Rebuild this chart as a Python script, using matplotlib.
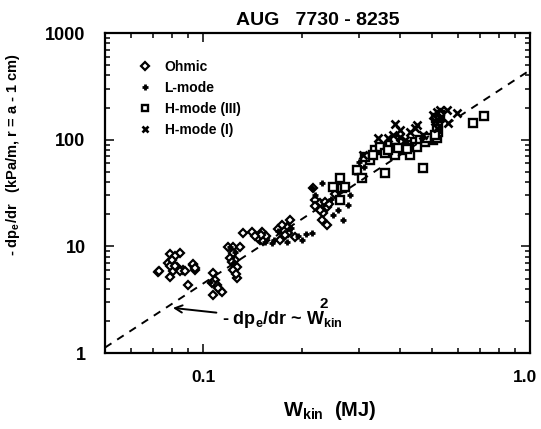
import numpy as np
import matplotlib
matplotlib.use("Agg")
import matplotlib.pyplot as plt
import matplotlib.transforms as mtransforms
from matplotlib.ticker import FixedLocator, FixedFormatter, LogLocator, NullFormatter

plt.rcParams['font.family'] = ['Liberation Sans', 'DejaVu Sans']
plt.rcParams['font.weight'] = 'bold'
plt.rcParams['mathtext.default'] = 'regular'

# W_kin (MJ) and -dpe/dr (kPa/m)
ohmic_w = [0.0726, 0.0730, 0.0790, 0.0848, 0.0779, 0.0830, 0.0866, 0.0929, 0.0942, 0.0790,
           0.0897, 0.0818, 0.0807, 0.0848, 0.0878, 0.0790, 0.0818, 0.0929, 0.0942, 0.0800,
           0.1070, 0.1085, 0.1100, 0.1124, 0.1070, 0.1140, 0.1060, 0.1110,
           0.1189, 0.1232, 0.1293, 0.1232, 0.1249, 0.1267, 0.1267, 0.1232, 0.1206, 0.1220, 0.1260,
           0.1321, 0.1408, 0.1511, 0.1489, 0.1542, 0.1469, 0.1520, 0.1560, 0.1500, 0.1440,
           0.1690, 0.1801, 0.1839, 0.1813, 0.1905, 0.1714, 0.1760, 0.1740, 0.1780,
           0.2163, 0.2194, 0.2273, 0.2387, 0.2321, 0.2305, 0.2387, 0.2250, 0.2350, 0.2420,
           0.2200, 0.2280, 0.2530, 0.2600]
ohmic_p = [5.76, 5.90, 8.5, 8.7, 7.0, 6.4, 6.0, 6.7, 6.0, 5.2,
           4.35, 8.13, 5.9, 5.9, 5.9, 6.6, 6.5, 6.9, 6.3, 7.5,
           5.63, 4.84, 4.35, 3.90, 3.50, 3.74, 4.5, 4.1,
           9.87, 9.87, 9.87, 8.67, 7.46, 6.41, 5.06, 6.0, 7.8, 7.1, 5.5,
           13.4, 13.6, 13.6, 11.5, 12.0, 11.9, 11.2, 12.4, 12.8, 12.5,
           14.6, 15.2, 17.7, 13.4, 12.2, 11.5, 14.0, 16.0, 12.8,
           35.5, 27.2, 25.5, 23.4, 20.6, 17.7, 15.9, 23.0, 26.0, 25.0,
           24.0, 22.0, 31.0, 33.5]

lmode_w = [0.1047, 0.1206, 0.1249, 0.1232, 0.1620, 0.1640, 0.2002, 0.2148, 0.1950, 0.2060,
           0.2148, 0.2305, 0.2672, 0.2768, 0.2807, 0.2200, 0.2450, 0.2500, 0.2580, 0.2907,
           0.1690, 0.1850, 0.1800, 0.1540, 0.3000, 0.3180, 0.3300, 0.3100]
lmode_p = [4.64, 9.87, 8.86, 6.99, 10.8, 11.5, 11.5, 13.4, 12.5, 13.0,
           35.3, 39.3, 17.7, 24.4, 30.3, 30.0, 28.0, 19.5, 22.0, 49.8,
           14.0, 15.0, 11.0, 11.0, 62.0, 66.0, 75.0, 56.0]

h3_w = [0.2616, 0.2491, 0.2653, 0.2616, 0.2949, 0.3054, 0.2710, 0.3591, 0.4693, 0.6676,
        0.7212, 0.3347, 0.3467, 0.3720, 0.3992, 0.4135, 0.4283, 0.4436, 0.4595, 0.4760,
        0.3854, 0.3591, 0.4283, 0.5036, 0.5178, 0.5214, 0.5214, 0.3232, 0.3120, 0.3854,
        0.4827, 0.3300, 0.3680, 0.4500, 0.4200, 0.3950, 0.5150, 0.5200, 0.5100, 0.5300]
h3_p = [43.8, 36.0, 35.3, 27.2, 52.0, 43.8, 36.0, 48.8, 54.3, 143.4,
        166.8, 80.1, 85.4, 89.2, 93.1, 80.1, 89.2, 95.1, 99.4, 95.1,
        71.9, 75.1, 71.9, 99.4, 103.7, 118.1, 143.4, 64.5, 68.8, 99.4,
        103.7, 72.0, 80.0, 85.0, 82.0, 84.0, 160.0, 125.0, 110.0, 170.0]

h1_w = [0.3854, 0.3419, 0.3668, 0.3799, 0.3076, 0.4283, 0.4436, 0.4500, 0.5178, 0.5553,
        0.5963, 0.5594, 0.5036, 0.3992, 0.4135, 0.5290, 0.5300, 0.5100, 0.4700, 0.4000, 0.5200]
h1_p = [140.4, 103.7, 103.7, 110.7, 71.9, 118.1, 128.8, 137.4, 181.8, 189.8,
        177.9, 143.4, 170.4, 123.3, 99.4, 189.8, 160.0, 150.0, 110.0, 105.0, 130.0]

fit_w = [0.05, 1.0]
fit_coef = 450.0

fig = plt.figure(figsize=(5.41, 4.29), dpi=100)
ax = fig.add_axes([0.194, 0.177, 0.786, 0.746])

ax.plot(ohmic_w, ohmic_p, 'D', ms=4.5, mfc='white', mec='black', mew=1.6, ls='none', label='Ohmic')
ax.plot(lmode_w, lmode_p, '+', ms=5, mec='black', mew=2.0, ls='none', label='L-mode')
ax.plot(h3_w, h3_p, 's', ms=5.5, mfc='white', mec='black', mew=1.7, ls='none', label='H-mode (III)')
ax.plot(h1_w, h1_p, 'x', ms=5.5, mec='black', mew=1.9, ls='none', label='H-mode (I)')

fw = np.array(fit_w)
ax.plot(fw, fit_coef * fw**2, ls=(0, (4, 3.5)), color='black', lw=1.4)

ax.set_xscale('log')
ax.set_yscale('log')
ax.set_xlim(0.05, 1.0)
ax.set_ylim(1, 1000)

ax.xaxis.set_major_locator(FixedLocator([0.1, 1.0]))
ax.xaxis.set_major_formatter(FixedFormatter(['0.1', '1.0']))
ax.xaxis.set_minor_locator(FixedLocator([0.05, 0.06, 0.07, 0.08, 0.09, 0.2, 0.3, 0.4, 0.5, 0.6, 0.7, 0.8, 0.9]))
ax.xaxis.set_minor_formatter(NullFormatter())
ax.yaxis.set_major_locator(FixedLocator([1, 10, 100, 1000]))
ax.yaxis.set_major_formatter(FixedFormatter(['1', '10', '100', '1000']))
ax.yaxis.set_minor_locator(LogLocator(base=10, subs=np.arange(2, 10), numticks=20))
ax.yaxis.set_minor_formatter(NullFormatter())

ax.tick_params(which='both', direction='in', top=True, right=True, width=1.1, labelsize=13)
ax.tick_params(axis='x', labelsize=12.5)
ax.tick_params(which='major', length=6.5)
ax.tick_params(which='minor', length=3.5)
ax.tick_params(axis='y', pad=14)
ax.tick_params(axis='x', pad=12)
for s in ax.spines.values():
    s.set_linewidth(1.6)

# nudge the "1.0" label left so it stays inside the figure
shift = mtransforms.ScaledTranslation(-5 / 100, 0, fig.dpi_scale_trans)
last = ax.xaxis.get_major_ticks()[-1].label1
last.set_transform(last.get_transform() + shift)

ax.set_title('AUG   7730 - 8235', fontsize=14, fontweight='bold', pad=6)
ax.set_xlabel('W$_{kin}$  (MJ)', fontsize=14.5, fontweight='bold')
ax.xaxis.set_label_coords(0.53, -0.145)
ax.set_ylabel('- dp$_e$/dr   (kPa/m, r = a - 1 cm)', fontsize=10.5, fontweight='bold')
ax.yaxis.set_label_coords(-0.195, 0.62)

ax.annotate('- dp$_e$/dr ~ W$_{kin}$', xy=(0.0807, 2.65), xytext=(0.114, 2.05),
            fontsize=13, fontweight='bold', va='center', ha='left',
            arrowprops=dict(arrowstyle='->', color='black', lw=1.4, shrinkA=2, shrinkB=0))
ax.text(0.226, 2.9, '2', fontsize=11, fontweight='bold', ha='left', va='center')

ax.legend(loc='upper left', bbox_to_anchor=(0.078, 0.915), frameon=False, fontsize=10,
          handlelength=1.0, handletextpad=0.9, labelspacing=0.5, borderpad=0, borderaxespad=0,
          numpoints=1, markerscale=0.85)

fig.savefig('out.png', dpi=100)
